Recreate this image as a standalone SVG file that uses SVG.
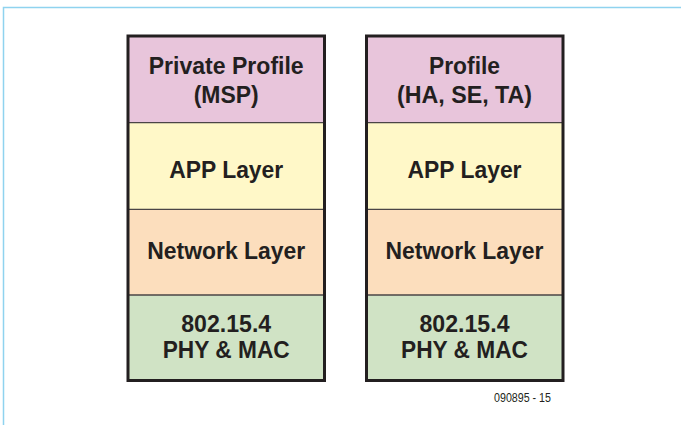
<svg xmlns="http://www.w3.org/2000/svg" width="681" height="425" viewBox="0 0 681 425">
<style>
.t{font-family:"Liberation Sans",Arial,sans-serif;font-weight:bold;font-size:24px;fill:#231f20;text-anchor:middle}
.div{stroke:#4a4546;stroke-width:1.3;fill:none}
.box{fill:none;stroke:#231f20;stroke-width:3}
.p{fill:#e8c5db}.y{fill:#fff8c8}.o{fill:#fcdebd}.g{fill:#d0e3c5}
.cap{font-family:"Liberation Sans",Arial,sans-serif;font-size:12.5px;fill:#231f20;text-anchor:middle}
</style>
<rect width="681" height="425" fill="#ffffff"/>
<path d="M3.5 425 V7.5 H681" fill="none" stroke="#8fd3ef" stroke-width="1.5"/>
<g id="stack-left">
<rect class="p" x="128" y="36" width="196.5" height="86.7"/>
<rect class="y" x="128" y="122.7" width="196.5" height="86.6"/>
<rect class="o" x="128" y="209.3" width="196.5" height="85.7"/>
<rect class="g" x="128" y="295" width="196.5" height="85.5"/>
<line class="div" x1="128" y1="122.7" x2="324.5" y2="122.7"/>
<line class="div" x1="128" y1="209.3" x2="324.5" y2="209.3"/>
<line class="div" x1="128" y1="295" x2="324.5" y2="295"/>
<rect class="box" x="128" y="36" width="196.5" height="344.5"/>
<text class="t" x="226.2" y="74" textLength="155" lengthAdjust="spacingAndGlyphs">Private Profile</text>
<text class="t" x="226.2" y="103.3" textLength="65" lengthAdjust="spacingAndGlyphs">(MSP)</text>
<text class="t" x="226.2" y="178.3" textLength="114" lengthAdjust="spacingAndGlyphs">APP Layer</text>
<text class="t" x="226.2" y="259.3" textLength="158" lengthAdjust="spacingAndGlyphs">Network Layer</text>
<text class="t" x="226.2" y="331.7" textLength="90" lengthAdjust="spacingAndGlyphs">802.15.4</text>
<text class="t" x="226.2" y="358.3" textLength="127" lengthAdjust="spacingAndGlyphs">PHY &amp; MAC</text>
</g>
<g id="stack-right">
<rect class="p" x="366.5" y="36" width="196.5" height="86.7"/>
<rect class="y" x="366.5" y="122.7" width="196.5" height="86.6"/>
<rect class="o" x="366.5" y="209.3" width="196.5" height="85.7"/>
<rect class="g" x="366.5" y="295" width="196.5" height="85.5"/>
<line class="div" x1="366.5" y1="122.7" x2="563" y2="122.7"/>
<line class="div" x1="366.5" y1="209.3" x2="563" y2="209.3"/>
<line class="div" x1="366.5" y1="295" x2="563" y2="295"/>
<rect class="box" x="366.5" y="36" width="196.5" height="344.5"/>
<text class="t" x="464.5" y="74" textLength="71" lengthAdjust="spacingAndGlyphs">Profile</text>
<text class="t" x="464.5" y="103.3" textLength="135" lengthAdjust="spacingAndGlyphs">(HA, SE, TA)</text>
<text class="t" x="464.5" y="178.3" textLength="114" lengthAdjust="spacingAndGlyphs">APP Layer</text>
<text class="t" x="464.5" y="259.3" textLength="158" lengthAdjust="spacingAndGlyphs">Network Layer</text>
<text class="t" x="464.5" y="331.7" textLength="90" lengthAdjust="spacingAndGlyphs">802.15.4</text>
<text class="t" x="464.5" y="358.3" textLength="127" lengthAdjust="spacingAndGlyphs">PHY &amp; MAC</text>
</g>
<g id="connectors"/>
<text class="cap" x="522.5" y="401.5" textLength="57" lengthAdjust="spacingAndGlyphs">090895 - 15</text>
</svg>
